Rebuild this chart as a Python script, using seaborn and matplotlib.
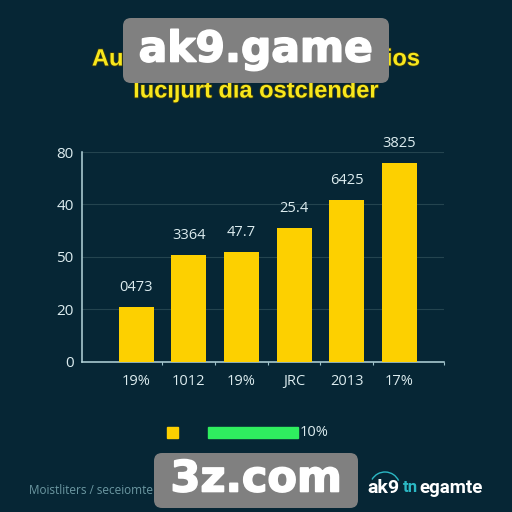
import pandas as pd
import matplotlib
matplotlib.use('Agg')
import matplotlib.pyplot as plt
from matplotlib.patches import FancyBboxPatch, Rectangle, Arc
import matplotlib.patheffects as pe
import seaborn as sns

categories = ['19%', '1012', '19%', 'JRC', '2013', '17%']
values = [21, 40.6, 41.8, 51, 61.6, 75.8]
bar_labels = ['0473', '3364', '47.7', '25.4', '6425', '3825']
y_ticks = [0, 20, 40, 60, 80]
y_labels = ['0', '20', '50', '40', '80']

bg = '#062635'
yellow = '#fdd000'
light = '#dcecef'

df = pd.DataFrame({'cat': range(len(categories)), 'val': values})

sns.set_style('dark')
plt.rcParams['font.family'] = ['Open Sans', 'DejaVu Sans']

fig = plt.figure(figsize=(5.12, 5.12), dpi=100, facecolor=bg)
ax = fig.add_axes([82 / 512, (512 - 361.5) / 512, (444 - 82) / 512, (361.5 - 152) / 512], facecolor=bg)

sns.barplot(x='cat', y='val', data=df, color=yellow, saturation=1, width=0.664, native_scale=True,
            linewidth=0, ax=ax, zorder=3)

ax.set_xlim(-1.025, 5.845)
ax.set_ylim(0, 80)
ax.set_xlabel('')
ax.set_ylabel('')
ax.set_xticks(range(len(categories)))
ax.set_xticklabels(categories, fontsize=10.5, color=light)
ax.set_xticks([0.5, 1.5, 2.5, 3.5, 4.5, 5.845], minor=True)
ax.set_yticks(y_ticks)
ax.set_yticklabels(y_labels, fontsize=11, color=light)
ax.tick_params(axis='x', which='major', length=0, pad=9)
ax.tick_params(axis='x', which='minor', length=2.5, color='#9fc4cc', width=0.8, bottom=True)
ax.tick_params(axis='y', length=0, pad=6)
ax.grid(axis='y', color='#24444f', linewidth=0.8, zorder=0)
ax.grid(axis='x', visible=False)
for side in ['top', 'right']:
    ax.spines[side].set_visible(False)
for side in ['left', 'bottom']:
    ax.spines[side].set_visible(True)
    ax.spines[side].set_color('#b5d6dc')
    ax.spines[side].set_linewidth(1.1)

for p, lab in zip(ax.patches, bar_labels):
    ax.annotate(lab, (p.get_x() + p.get_width() / 2, p.get_height()), xytext=(0, 14),
                textcoords='offset points', ha='center', va='center', fontsize=10.5, color=light)


def px(x, y):
    return x / 512, 1 - y / 512


# title, partly covered by the watermark
outline = [pe.withStroke(linewidth=1.2, foreground='#3a3a10')]
for x, ha, s in [(92, 'left', 'Au'), (420, 'right', 'ios')]:
    fig.text(*px(x, 59), s, ha=ha, va='center', fontsize=17, fontweight='bold', color='#f8e71c',
             family='Liberation Sans', path_effects=outline)
fig.text(*px(256, 91), 'lucijurt dia ostclender', ha='center', va='center', fontsize=17, fontweight='bold',
         color='#f8e71c', family='Liberation Sans', path_effects=outline)

# legend
fig.add_artist(Rectangle(px(167, 438), 11 / 512, 11 / 512, transform=fig.transFigure, color=yellow))
fig.add_artist(Rectangle(px(208, 438), 90 / 512, 11 / 512, transform=fig.transFigure, color='#2fee5f'))
fig.text(*px(300, 432), '10%', ha='left', va='center', fontsize=10.5, color=light)

# footer
fig.text(*px(29, 490), 'Moistliters / seceiomte', ha='left', va='center', fontsize=8.5, color='#6c98a2')
fig.text(*px(367, 488), 'ak9', ha='left', va='center', fontsize=14, fontweight='bold', color='white', family='Roboto')
fig.text(*px(403, 488), 'tn', ha='left', va='center', fontsize=12, fontweight='bold', color='#2bb8c4', family='Roboto')
fig.text(*px(419, 488), 'egamte', ha='left', va='center', fontsize=13.5, fontweight='bold', color='white', family='Roboto')
fig.add_artist(Arc(px(385, 487), 30 / 512, 30 / 512, theta1=25, theta2=150, transform=fig.transFigure,
                   color='#2bb8c4', linewidth=1))

# watermarks
stroke = [pe.withStroke(linewidth=1.2, foreground='white')]
for x0, y0, x1, y1, s, size in [(123, 18, 389, 83, 'ak9.game', 30.5), (154, 453, 358, 508, '3z.com', 31)]:
    fig.add_artist(FancyBboxPatch(px(x0, y1), (x1 - x0) / 512, (y1 - y0) / 512,
                                  boxstyle='round,pad=0,rounding_size=0.0156', transform=fig.transFigure,
                                  facecolor='#808080', edgecolor='none', linewidth=0, zorder=5))
    fig.text(*px((x0 + x1) / 2, (y0 + y1) / 2 - 1), s, ha='center', va='center', fontsize=size, fontweight='bold',
             color='white', zorder=6, family='DejaVu Sans', path_effects=stroke)

fig.savefig('out.png', dpi=100, facecolor=bg)
